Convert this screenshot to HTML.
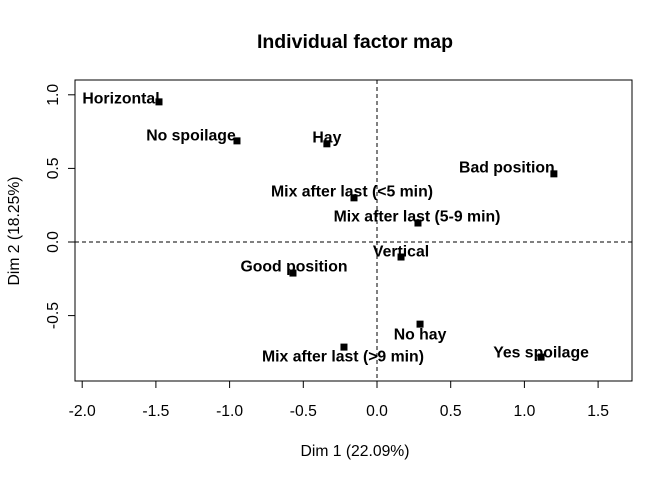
<!DOCTYPE html>
<html><head><meta charset="utf-8"><style>
body{margin:0;background:#fff;font-family:"Liberation Sans",Arial,sans-serif}
svg text{font-family:"Liberation Sans",Arial,sans-serif}
</style></head><body>
<svg id="chart" width="672" height="480">
<text x="355" y="48" text-anchor="middle" font-size="19.5" font-weight="bold">Individual factor map</text>
<rect x="75" y="80" width="557" height="301" fill="none" stroke="#000"/>
<g id="xaxis"></g>
<g id="yaxis"></g>
<text x="355" y="456" text-anchor="middle" font-size="15.7">Dim 1 (22.09%)</text>
<text transform="translate(19,231) rotate(-90)" text-anchor="middle" font-size="15.7">Dim 2 (18.25%)</text>
<g id="marks"></g>
</svg>
<script>
const labels=["Horizontal","No spoilage","Hay","Bad position","Mix after last (<5 min)","Mix after last (5-9 min)","Vertical","Good position","No hay","Mix after last (>9 min)","Yes spoilage"];
const dim1=[-1.479,-0.95,-0.34,1.20,-0.156,0.278,0.163,-0.57,0.292,-0.224,1.113];
const dim2=[0.952,0.687,0.667,0.463,0.30,0.129,-0.102,-0.211,-0.558,-0.714,-0.782];
const xTicks=[-2.0,-1.5,-1.0,-0.5,0.0,0.5,1.0,1.5];
const yTicks=[1.0,0.5,0.0,-0.5];
const labelDx=[-38,-46,0,-47,-2,-1,0,1,0,-1,0];
const labelDy=[-4,-6,-7,-7,-7,-7,-6,-7,10,9,-5];
const NS="http://www.w3.org/2000/svg";
const sx=v=>377+v*147.4, sy=v=>242-v*147.2;
function mk(t,a,p){const e=document.createElementNS(NS,t);for(const k in a)e.setAttribute(k,a[k]);p.appendChild(e);return e;}
const svg=document.getElementById('chart');
const xa=document.getElementById('xaxis'),ya=document.getElementById('yaxis'),mg=document.getElementById('marks');
mk('line',{x1:sx(xTicks[0]),x2:sx(xTicks[xTicks.length-1]),y1:381,y2:381,stroke:'#000'},xa);
xTicks.forEach(v=>{const x=sx(v);
 const l=mk('line',{x1:x,x2:x,y1:381,y2:388,stroke:'#000'},xa);
 
 
 const t=mk('text',{x:x,y:416,'text-anchor':'middle','font-size':15.7},xa);t.textContent=v.toFixed(1);
 
 });
mk('line',{x1:75,x2:75,y1:sy(yTicks[0]),y2:sy(yTicks[yTicks.length-1]),stroke:'#000'},ya);
yTicks.forEach(v=>{const y=sy(v);
 const l=mk('line',{x1:68,x2:75,y1:y,y2:y,stroke:'#000'},ya);
 
 
 const t=mk('text',{transform:`translate(58,${y}) rotate(-90)`,'text-anchor':'middle','font-size':15.7},ya);t.textContent=v.toFixed(1);
 
 });
const h=mk('line',{x1:75,x2:632,y1:sy(0),y2:sy(0),stroke:'#000','stroke-dasharray':'4,3'},svg);


const v0=mk('line',{x1:sx(0),x2:sx(0),y1:80,y2:381,stroke:'#000','stroke-dasharray':'4,3'},svg);


labels.forEach((lab,i)=>{const x=sx(dim1[i]),y=sy(dim2[i]);
 const r=mk('rect',{x:x-3.5,y:y-3.5,width:7,height:7,fill:'#000'},mg);
 
 
 const t=mk('text',{x:x+labelDx[i],y:y+labelDy[i]+5.5,'text-anchor':'middle','font-size':15.8,'font-weight':'bold'},mg);
 t.textContent=lab;
 
 });
</script>
</body></html>
